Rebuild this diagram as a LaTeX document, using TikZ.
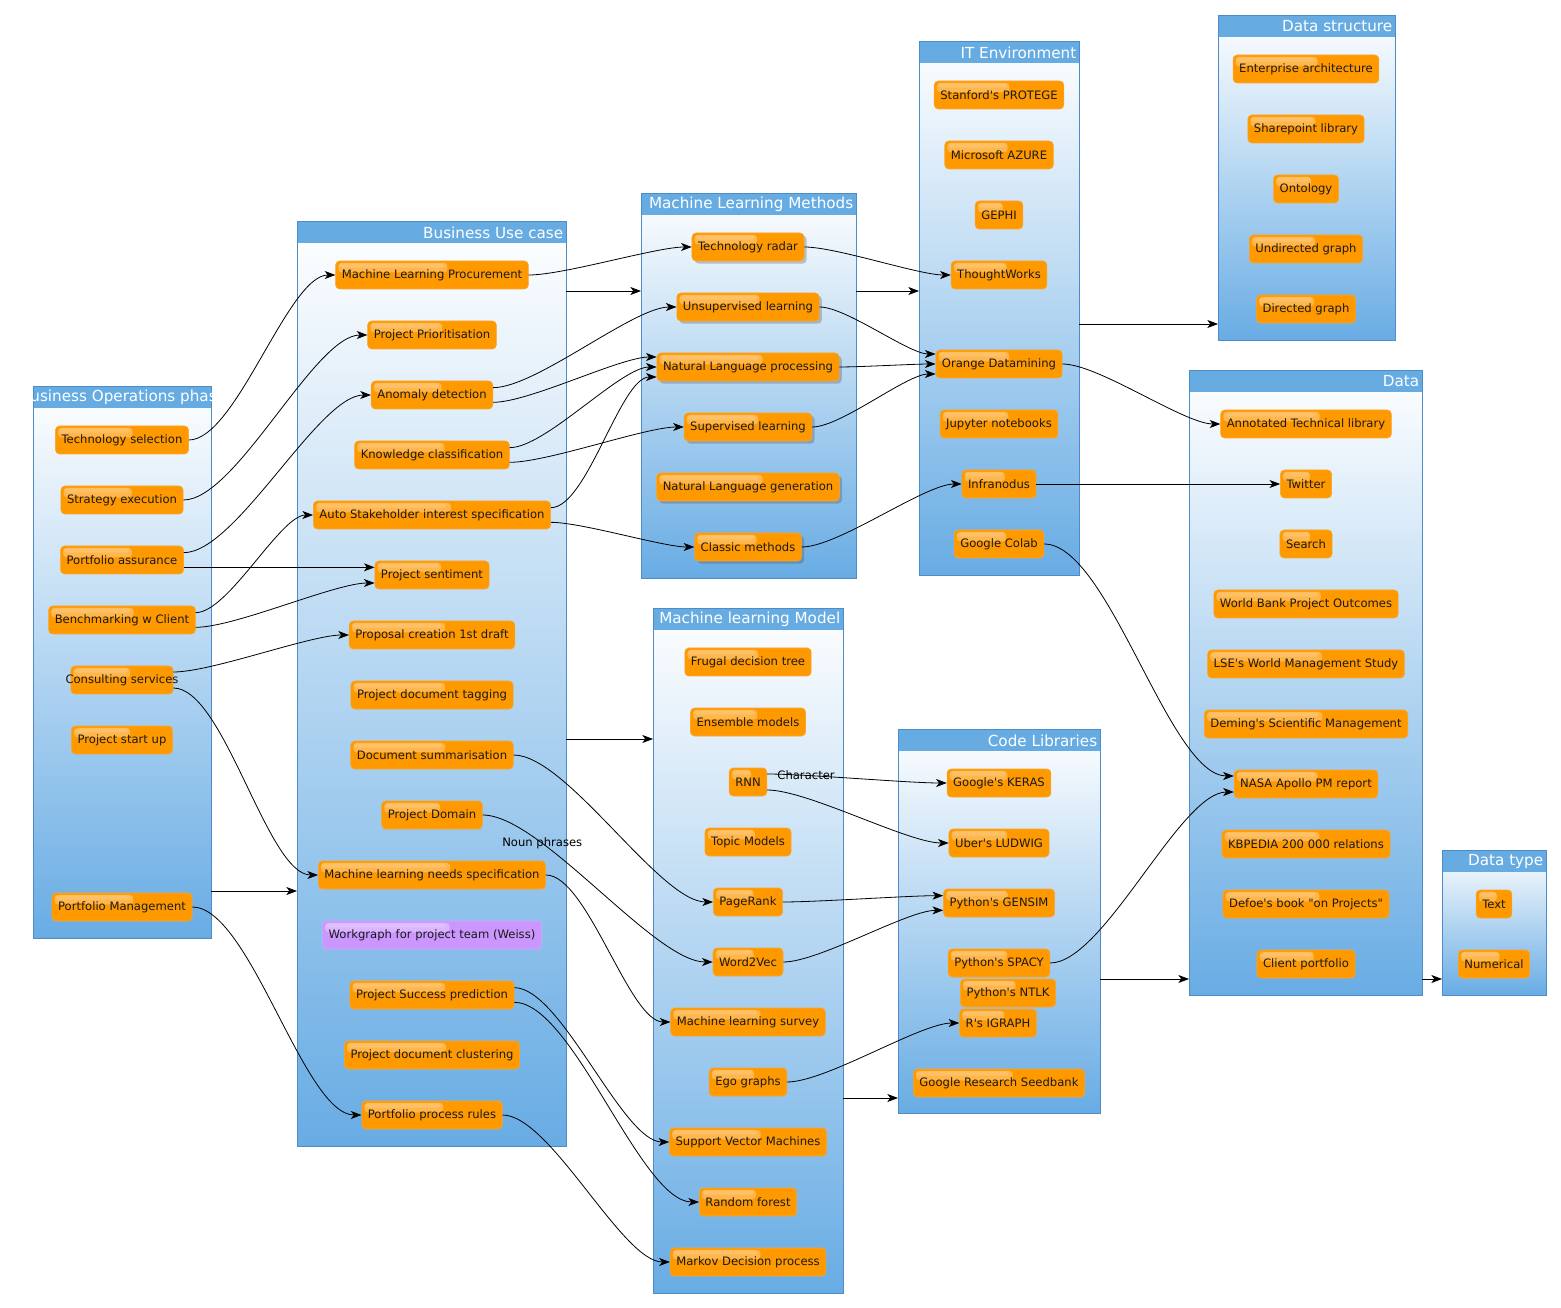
\documentclass[tikz,border=0pt]{standalone}
\usepackage{fontspec}
\setmainfont{DejaVu Sans}[Ligatures=TeXOff]
\usetikzlibrary{calc,arrows.meta,shadows}
\definecolor{macorange}{RGB}{255,153,0}
\definecolor{macborder}{RGB}{250,165,45}
\definecolor{macpurple}{RGB}{204,150,255}
\definecolor{laneheadc}{RGB}{102,172,226}
\definecolor{lanebotc}{RGB}{104,172,228}
\definecolor{laneedgec}{RGB}{78,140,200}
\tikzset{
  box/.style={rectangle, rounded corners=3pt, fill=macorange, draw=macborder, line width=0.4pt,
    minimum height=21pt, inner xsep=4.6pt, inner ysep=0pt, text=black!90,
    font=\fontsize{8.7}{10}\selectfont,
    path picture={\fill[white, fill opacity=0.3, rounded corners=2.5pt]
      ([shift={(2pt,-1.4pt)}]path picture bounding box.north west) rectangle
      ($(path picture bounding box.north west)!0.58!(path picture bounding box.north east)+(0pt,-8.5pt)$);
      \fill[white, fill opacity=0.15, rounded corners=2pt]
      ([shift={(2.5pt,-1.8pt)}]path picture bounding box.north west) rectangle
      ($(path picture bounding box.north west)!0.56!(path picture bounding box.north east)+(0pt,-5pt)$);}},
  sbox/.style={box, drop shadow={shadow xshift=2pt, shadow yshift=-2pt, opacity=0.3, fill=black!70}},
  pbox/.style={box, fill=macpurple, draw=macpurple!85!white},
  lanebox/.style={rectangle, inner sep=0pt, outer sep=0pt, top color=white, bottom color=lanebotc, draw=none},
  lanetitle/.style={font=\fontsize{11.4}{13}\selectfont, text=white, inner sep=0pt},
  lk/.style={draw=black, line width=0.6pt, -{Stealth[length=8pt,width=6pt,inset=2.2pt]}},
  crv/.style={out=0, in=180, looseness=0.55},
  lbl/.style={font=\fontsize{8.7}{10}\selectfont, inner sep=0pt, text=black}
}
\newcommand\mylane[6]{%
  \node[lanebox, minimum width={(#4-#2)*0.75pt}, minimum height={(#5-#3)*0.75pt}, anchor=north west] (#1) at (#2,#3) {};
  \fill[laneheadc] (#2,#3) rectangle (#4,#3+22);
  \draw[laneedgec, line width=0.5pt] (#2,#3) rectangle (#4,#5);
  \node[lanetitle, anchor=east] at (#4-2.5,#3+11.5) {#6};}
\begin{document}
\begin{tikzpicture}[x=0.75pt, y=-0.75pt]
\useasboundingbox (0,0) rectangle (1561,1308);
% lanes
\mylane{BO}{33}{386}{211}{938}{}
\begin{scope}
  \clip (33,386) rectangle (211,408);
  \node[lanetitle] at (123,397.5) {Business Operations phase};
\end{scope}
\mylane{BU}{297}{221}{566}{1146}{Business Use case}
\mylane{MM}{641}{193}{856}{578}{Machine Learning Methods}
\mylane{IT}{919}{41}{1079}{575}{IT Environment}
\mylane{DS}{1218}{15}{1395}{340}{Data structure}
\mylane{DA}{1189}{370}{1422}{995}{Data}
\mylane{DT}{1442}{850}{1546}{995}{Data type}
\mylane{MO}{653}{608}{843}{1293}{Machine learning Model}
\mylane{CL}{898}{729}{1100}{1113}{Code Libraries}

% Business Operations phase
\node[box] (bo1) at (122,440) {Technology selection};
\node[box] (bo2) at (122,500) {Strategy execution};
\node[box] (bo3) at (122,560) {Portfolio assurance};
\node[box] (bo4) at (122,620) {Benchmarking w Client};
\node[box, inner xsep=-4pt] (bo5) at (122,680) {Consulting services};
\node[box] (bo6) at (122,740) {Project start up};
\node[box] (bo7) at (122,907) {Portfolio Management};

% Business Use case
\node[box] (u1) at (432,275) {Machine Learning Procurement};
\node[box] (u2) at (432,335) {Project Prioritisation};
\node[box] (u3) at (432,395) {Anomaly detection};
\node[box] (u4) at (432,455) {Knowledge classification};
\node[box] (u5) at (432,515) {Auto Stakeholder interest specification};
\node[box] (u6) at (432,575) {Project sentiment};
\node[box] (u7) at (432,635) {Proposal creation 1st draft};
\node[box] (u8) at (432,695) {Project document tagging};
\node[box] (u9) at (432,755) {Document summarisation};
\node[box] (u10) at (432,815) {Project Domain};
\node[box] (u11) at (432,875) {Machine learning needs specification};
\node[pbox] (u12) at (432,935) {Workgraph for project team (Weiss)};
\node[box] (u13) at (432,995) {Project Success prediction};
\node[box] (u14) at (432,1055) {Project document clustering};
\node[box] (u15) at (432,1115) {Portfolio process rules};

% Machine Learning Methods
\node[sbox] (m1) at (748,247) {Technology radar};
\node[sbox] (m2) at (748,307) {Unsupervised learning};
\node[sbox] (m3) at (748,367) {Natural Language processing};
\node[sbox] (m4) at (748,427) {Supervised learning};
\node[sbox] (m5) at (748,487) {Natural Language generation};
\node[sbox] (m6) at (748,547) {Classic methods};

% IT Environment
\node[box] (i1) at (999,95) {Stanford's PROTEGE};
\node[box] (i2) at (999,155) {Microsoft AZURE};
\node[box] (i3) at (999,215) {GEPHI};
\node[box] (i4) at (999,275) {ThoughtWorks};
\node[box] (i5) at (999,364) {Orange Datamining};
\node[box] (i6) at (999,424) {Jupyter notebooks};
\node[box] (i7) at (999,484) {Infranodus};
\node[box] (i8) at (999,544) {Google Colab};

% Data structure
\node[box] (s1) at (1306,69) {Enterprise architecture};
\node[box] (s2) at (1306,129) {Sharepoint library};
\node[box] (s3) at (1306,189) {Ontology};
\node[box] (s4) at (1306,249) {Undirected graph};
\node[box] (s5) at (1306,309) {Directed graph};

% Data
\node[box] (d1) at (1306,424) {Annotated Technical library};
\node[box] (d2) at (1306,484) {Twitter};
\node[box] (d3) at (1306,544) {Search};
\node[box] (d4) at (1306,604) {World Bank Project Outcomes};
\node[box] (d5) at (1306,664) {LSE's World Management Study};
\node[box] (d6) at (1306,724) {Deming's Scientific Management};
\node[box] (d7) at (1306,784) {NASA Apollo PM report};
\node[box] (d8) at (1306,844) {KBPEDIA 200 000 relations};
\node[box] (d9) at (1306,904) {Defoe's book "on Projects"};
\node[box] (d10) at (1306,964) {Client portfolio};

% Data type
\node[box] (t1) at (1494,904) {Text};
\node[box] (t2) at (1494,964) {Numerical};

% Machine learning Model
\node[box] (n1) at (748,662) {Frugal decision tree};
\node[box] (n2) at (748,722) {Ensemble models};
\node[box] (n3) at (748,782) {RNN};
\node[box] (n4) at (748,842) {Topic Models};
\node[box] (n5) at (748,902) {PageRank};
\node[box] (n6) at (748,962) {Word2Vec};
\node[box] (n7) at (748,1022) {Machine learning survey};
\node[box] (n8) at (748,1082) {Ego graphs};
\node[box] (n9) at (748,1142) {Support Vector Machines};
\node[box] (n10) at (748,1202) {Random forest};
\node[box] (n11) at (748,1262) {Markov Decision process};

% Code Libraries
\node[box] (c1) at (999,783) {Google's KERAS};
\node[box] (c2) at (999,843) {Uber's LUDWIG};
\node[box] (c3) at (999,903) {Python's GENSIM};
\node[box] (c4) at (999,963) {Python's SPACY};
\node[box] (c5) at (1008,993) {Python's NTLK};
\node[box] (c6) at (998,1023) {R's IGRAPH};
\node[box] (c7) at (999,1083) {Google Research Seedbank};

% lane to lane connectors
\draw[lk] (BO.east |- 0,891) -- (BU.west |- 0,891);
\draw[lk] (BU.east |- 0,291) -- (MM.west |- 0,291);
\draw[lk] (BU.east |- 0,739) -- (MO.west |- 0,739);
\draw[lk] (MM.east |- 0,291) -- (IT.west |- 0,291);
\draw[lk] (IT.east |- 0,324) -- (DS.west |- 0,324);
\draw[lk] (MO.east |- 0,1098) -- (CL.west |- 0,1098);
\draw[lk] (CL.east |- 0,979) -- (DA.west |- 0,979);
\draw[lk] (DA.east |- 0,979) -- (DT.west |- 0,979);

% Business Operations -> Business Use case
\draw[lk] (bo1.east) to[crv] (u1.west);
\draw[lk] (bo2.east) to[crv] (u2.west);
\draw[lk] ([yshift=5.5pt]bo3.east) to[crv] (u3.west);
\draw[lk] ([yshift=-5.5pt]bo3.east) to[crv] ([yshift=5.75pt]u6.west);
\draw[lk] ([yshift=5.5pt]bo4.east) to[crv] (u5.west);
\draw[lk] ([yshift=-5.5pt]bo4.east) to[crv] ([yshift=-6pt]u6.west);
\draw[lk] ([yshift=6pt]bo5.east) to[crv] (u7.west);
\draw[lk] ([yshift=-6pt]bo5.east) to[crv] (u11.west);
\draw[lk] (bo7.east) to[crv] (u15.west);

% Business Use case -> methods / models
\draw[lk] (u1.east) to[crv] (m1.west);
\draw[lk] ([yshift=5.5pt]u3.east) to[crv] (m2.west);
\draw[lk] ([yshift=-5.5pt]u3.east) to[crv] ([yshift=7.5pt]m3.west);
\draw[lk] ([yshift=5.5pt]u4.east) to[crv] (m3.west);
\draw[lk] ([yshift=-5.5pt]u4.east) to[crv] (m4.west);
\draw[lk] ([yshift=5.5pt]u5.east) to[crv] ([yshift=-7.5pt]m3.west);
\draw[lk] ([yshift=-5.5pt]u5.east) to[crv] (m6.west);
\draw[lk] (u9.east) to[crv] (n5.west);
\draw[lk] (u10.east) to[crv] node[lbl, pos=0.28] {Noun phrases} (n6.west);
\draw[lk] (u11.east) to[crv] (n7.west);
\draw[lk] ([yshift=5.5pt]u13.east) to[crv] (n9.west);
\draw[lk] ([yshift=-5.5pt]u13.east) to[crv] (n10.west);
\draw[lk] (u15.east) to[crv] (n11.west);

% Methods -> IT Environment
\draw[lk] (m1.east) to[crv] (i4.west);
\draw[lk] (m2.east) to[crv] ([yshift=7.5pt]i5.west);
\draw[lk] (m3.east) to[crv] (i5.west);
\draw[lk] (m4.east) to[crv] ([yshift=-7.5pt]i5.west);
\draw[lk] (m6.east) to[crv] (i7.west);

% IT Environment -> Data
\draw[lk] (i5.east) to[crv] (d1.west);
\draw[lk] (i7.east) -- (d2.west);
\draw[lk] (i8.east) to[crv] ([yshift=6pt]d7.west);

% Models -> Code Libraries
\draw[lk] ([yshift=6pt]n3.east) to[crv] node[lbl, pos=0.25] {Character} (c1.west);
\draw[lk] ([yshift=-6pt]n3.east) to[crv] (c2.west);
\draw[lk] (n5.east) to[crv] ([yshift=5.5pt]c3.west);
\draw[lk] (n6.east) to[crv] ([yshift=-5.5pt]c3.west);
\draw[lk] (n8.east) to[crv] (c6.west);

% Code Libraries -> Data
\draw[lk] (c4.east) to[crv] ([yshift=-6pt]d7.west);
\end{tikzpicture}
\end{document}
